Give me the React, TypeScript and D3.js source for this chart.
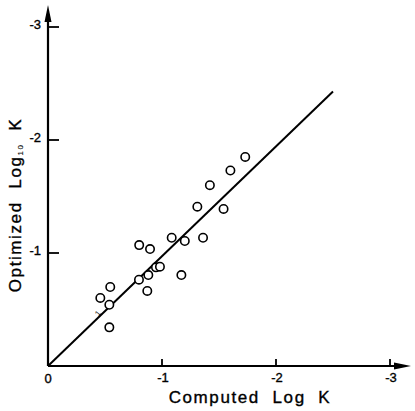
import React, { useEffect, useRef } from "react";
import * as d3 from "d3";

// Computed vs optimized log K values
const computedLogK = [1.73, 1.6, 1.42, 1.31, 1.54, 1.085, 1.2, 1.36, 0.8, 0.895, 0.947, 0.982, 0.88, 0.798, 1.17, 0.871, 0.546, 0.459, 0.538, 0.538];
const optimizedLogK = [1.85, 1.73, 1.6, 1.41, 1.39, 1.135, 1.106, 1.135, 1.07, 1.035, 0.873, 0.879, 0.805, 0.764, 0.805, 0.664, 0.699, 0.602, 0.542, 0.342];

// Fitted line endpoints
const lineX = [0, 2.5];
const lineY = [0, 2.43];

const xTicks = [1, 2, 3];
const yTicks = [1, 2, 3];

const W = 415;
const H = 411;

export default function App() {
  const ref = useRef<SVGSVGElement>(null);

  useEffect(() => {
    const svg = d3.select(ref.current);
    svg.selectAll("*").remove();

    const x = d3.scaleLinear().domain([0, 3]).range([48, 390]);
    const y = d3.scaleLinear().domain([0, 3]).range([366, 27]);
    const font = "'Liberation Sans', Arial, sans-serif";

    // Axes
    svg.append("line").attr("x1", x(0)).attr("x2", 400).attr("y1", y(0)).attr("y2", y(0))
      .attr("stroke", "#000").attr("stroke-width", 2.2);
    svg.append("line").attr("x1", x(0)).attr("x2", x(0)).attr("y1", y(0)).attr("y2", 16)
      .attr("stroke", "#000").attr("stroke-width", 2.2);

    // Arrowheads
    svg.append("path")
      .attr("d", `M${x(0)},5 L${x(0) - 3.5},22 L${x(0) + 3.5},22 Z`)
      .attr("fill", "#000");
    svg.append("path")
      .attr("d", `M411,${y(0)} L394,${y(0) - 3.5} L394,${y(0) + 3.5} Z`)
      .attr("fill", "#000");

    const textStyle = (sel: any, size: number) =>
      sel.attr("font-family", font).attr("font-size", size)
        .attr("stroke", "#000").attr("stroke-width", 0.35);

    // X ticks
    const xt = svg.append("g");
    xTicks.forEach((t) => {
      xt.append("line").attr("x1", x(t)).attr("x2", x(t)).attr("y1", y(0)).attr("y2", y(0) - 7)
        .attr("stroke", "#000").attr("stroke-width", 1.8);
      textStyle(xt.append("text").attr("x", x(t) + 1).attr("y", 382).attr("text-anchor", "middle"), 13)
        .text(`-${t}`);
    });

    // Y ticks
    const yt = svg.append("g");
    yTicks.forEach((t) => {
      yt.append("line").attr("x1", x(0)).attr("x2", x(0) + 11).attr("y1", y(t)).attr("y2", y(t))
        .attr("stroke", "#000").attr("stroke-width", 1.8);
      textStyle(yt.append("text").attr("x", 41).attr("y", y(t) - 1).attr("text-anchor", "end")
        .attr("dominant-baseline", "middle"), 13).text(`-${t}`);
    });

    textStyle(svg.append("text").attr("x", x(0)).attr("y", 383).attr("text-anchor", "middle"), 13)
      .text("0");

    // Axis titles
    textStyle(svg.append("text").attr("x", 250).attr("y", 403).attr("text-anchor", "middle")
      .attr("letter-spacing", 1.6).attr("xml:space", "preserve"), 17)
      .text("Computed  Log  K");

    const yTitle = textStyle(svg.append("text")
      .attr("transform", "translate(21,205) rotate(-90)")
      .attr("text-anchor", "middle")
      .attr("letter-spacing", 1.6)
      .attr("xml:space", "preserve"), 17);
    yTitle.append("tspan").text("Optimized  Log");
    yTitle.append("tspan").attr("font-size", 8).attr("stroke-width", 0.1).attr("dy", 2).text("10");
    yTitle.append("tspan").attr("dy", -2).text("  K");

    // Fitted line
    const lineGen = d3.line<number>().x((_, i) => x(lineX[i])).y((_, i) => y(lineY[i]));
    svg.append("path").attr("d", lineGen(lineX) as string)
      .attr("fill", "none").attr("stroke", "#000").attr("stroke-width", 2);

    svg.append("text").attr("transform", "translate(100,315) rotate(-50)")
      .attr("font-family", font).attr("font-size", 8).attr("text-anchor", "middle").text("1");

    // Points
    svg.append("g").selectAll("circle").data(computedLogK).join("circle")
      .attr("cx", (d) => x(d))
      .attr("cy", (_, i) => y(optimizedLogK[i]))
      .attr("r", 4.2)
      .attr("fill", "#fff")
      .attr("stroke", "#000")
      .attr("stroke-width", 1.6);
  }, []);

  return (
    <svg ref={ref} width={W} height={H}
      style={{ position: "fixed", left: 0, top: 0, background: "#fff" }} />
  );
}
